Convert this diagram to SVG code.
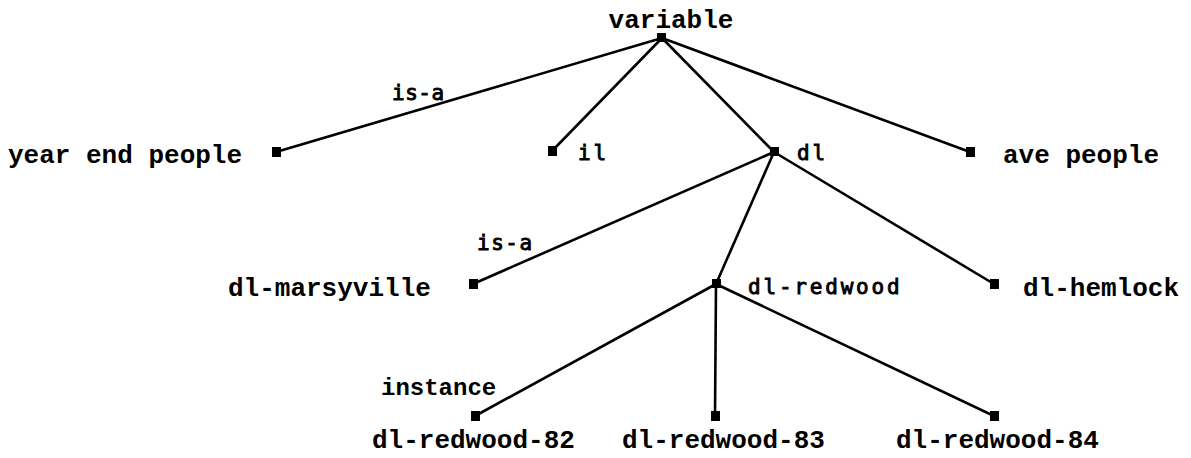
<svg xmlns="http://www.w3.org/2000/svg" width="1191" height="458" viewBox="0 0 1191 458">
<style>
.t{font-family:"Liberation Mono","Courier New",monospace;font-weight:bold;font-size:26px;fill:#000}
.d{font-family:"DejaVu Sans Mono","Liberation Mono",monospace;font-size:21px;letter-spacing:2.8px;fill:#000;stroke:#000;stroke-width:0.9}
.e{stroke:#000;stroke-width:2.6;fill:none}
.n{fill:#000}
</style>
<rect width="1191" height="458" fill="#fff"/>
<g id="connectors">
<line class="e" x1="662" y1="38" x2="276" y2="152"/>
<line class="e" x1="662" y1="38" x2="552" y2="151"/>
<line class="e" x1="662" y1="38" x2="774" y2="152"/>
<line class="e" x1="662" y1="38" x2="970" y2="152"/>
<line class="e" x1="774" y1="152" x2="473" y2="284"/>
<line class="e" x1="774" y1="152" x2="716" y2="284"/>
<line class="e" x1="774" y1="152" x2="994" y2="284"/>
<line class="e" x1="716" y1="284" x2="475" y2="416"/>
<line class="e" x1="716" y1="284" x2="715" y2="416"/>
<line class="e" x1="716" y1="284" x2="994" y2="416"/>
<text class="d" x="392" y="100" style="letter-spacing:0.5px">is-a</text>
<text class="d" x="477" y="250" style="letter-spacing:1.5px">is-a</text>
<text class="t" x="381" y="395" style="font-size:24px">instance</text>
</g>
<g id="variable"><rect class="n" x="657" y="33" width="9" height="9"/><text class="t" x="671" y="28" text-anchor="middle">variable</text></g>
<g id="year-end-people"><rect class="n" x="272" y="147" width="9" height="10"/><text class="t" x="8" y="163">year end people</text></g>
<g id="il"><rect class="n" x="548" y="146" width="9" height="10"/><text class="d" x="578" y="160">il</text></g>
<g id="dl"><rect class="n" x="770" y="147" width="9" height="9"/><text class="d" x="797" y="160">dl</text></g>
<g id="ave-people"><rect class="n" x="966" y="147" width="9" height="10"/><text class="t" x="1003" y="163">ave people</text></g>
<g id="dl-marsyville"><rect class="n" x="469" y="279" width="9" height="10"/><text class="t" x="228" y="296">dl-marsyville</text></g>
<g id="dl-redwood"><rect class="n" x="712" y="279" width="9" height="9"/><text class="d" x="748" y="294">dl-redwood</text></g>
<g id="dl-hemlock"><rect class="n" x="990" y="279" width="9" height="10"/><text class="t" x="1023" y="296">dl-hemlock</text></g>
<g id="dl-redwood-82"><rect class="n" x="471" y="411" width="9" height="10"/><text class="t" x="372" y="448">dl-redwood-82</text></g>
<g id="dl-redwood-83"><rect class="n" x="711" y="411" width="9" height="10"/><text class="t" x="622" y="448">dl-redwood-83</text></g>
<g id="dl-redwood-84"><rect class="n" x="990" y="411" width="9" height="10"/><text class="t" x="896" y="448">dl-redwood-84</text></g>
</svg>
